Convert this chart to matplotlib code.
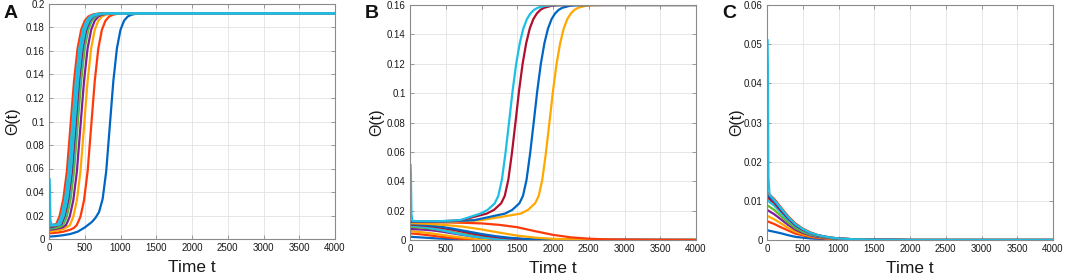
import matplotlib
matplotlib.use("Agg")
import matplotlib.pyplot as plt
from matplotlib.ticker import FuncFormatter, MultipleLocator

plt.rcParams['font.family'] = ['Liberation Sans', 'DejaVu Sans']

# MATLAB-like line colours (as they appear, saturated)
BLUE, RED, YELLOW, PURPLE = '#0066c4', '#ff3a0a', '#ffa800', '#7f1f9a'
GREEN, CYAN, DARKRED = '#5fb82a', '#1ebfe6', '#b0102e'

X_TICKS = [0, 500, 1000, 1500, 2000, 2500, 3000, 3500, 4000]

# ---------------- Panel A : all trajectories rise to 0.192 ----------------
a_blue_t = [0, 100, 200, 300, 400, 500, 600, 650, 700, 750, 800, 850, 900, 950, 1000, 1050, 1100, 1150, 1200, 1300, 4000]
a_blue_y = [0.002, 0.0025, 0.0032, 0.0043, 0.0062, 0.0098, 0.0145, 0.018, 0.023, 0.034, 0.0575, 0.096, 0.1345, 0.1623, 0.1781, 0.1858, 0.1893, 0.1908, 0.1915, 0.192, 0.192]
a_red_t = [0, 100, 200, 300, 350, 390, 440, 490, 540, 590, 640, 690, 740, 790, 840, 890, 940, 1040, 4000]
a_red_y = [0.0048, 0.0053, 0.0062, 0.008, 0.0095, 0.012, 0.019, 0.033, 0.0575, 0.096, 0.1345, 0.1623, 0.1781, 0.1858, 0.1893, 0.1908, 0.1915, 0.192, 0.192]
a_yellow_t = [0, 100, 200, 290, 340, 390, 440, 490, 540, 590, 640, 690, 740, 790, 840, 940, 4000]
a_yellow_y = [0.0062, 0.007, 0.0085, 0.0115, 0.019, 0.033, 0.0575, 0.096, 0.1345, 0.1623, 0.1781, 0.1858, 0.1893, 0.1908, 0.1915, 0.192, 0.192]
a_purple_t = [0, 100, 190, 240, 290, 340, 390, 440, 490, 540, 590, 640, 690, 740, 790, 890, 4000]
a_purple_y = [0.0077, 0.0086, 0.0098, 0.012, 0.019, 0.033, 0.0575, 0.096, 0.1345, 0.1623, 0.1781, 0.1858, 0.1893, 0.1908, 0.1915, 0.192, 0.192]
a_green_t = [0, 100, 150, 200, 250, 300, 350, 400, 450, 500, 550, 600, 650, 700, 750, 850, 4000]
a_green_y = [0.0086, 0.0095, 0.0103, 0.012, 0.019, 0.033, 0.0575, 0.096, 0.1345, 0.1623, 0.1781, 0.1858, 0.1893, 0.1908, 0.1915, 0.192, 0.192]
# the dense bundle
a_b1_t = [0, 50, 180, 230, 280, 330, 380, 430, 480, 530, 580, 630, 680, 730, 830, 4000]
a_b1_y = [0.0095, 0.0098, 0.0125, 0.02, 0.034, 0.0575, 0.096, 0.1345, 0.1623, 0.1781, 0.1858, 0.1893, 0.1908, 0.1915, 0.192, 0.192]
a_b2_t = [0, 50, 170, 220, 270, 320, 370, 420, 470, 520, 570, 620, 670, 720, 820, 4000]
a_b2_y = [0.010, 0.0102, 0.0125, 0.02, 0.034, 0.0575, 0.096, 0.1345, 0.1623, 0.1781, 0.1858, 0.1893, 0.1908, 0.1915, 0.192, 0.192]
a_b3_t = [0, 50, 160, 210, 260, 310, 360, 410, 460, 510, 560, 610, 660, 710, 810, 4000]
a_b3_y = [0.0105, 0.0107, 0.0125, 0.02, 0.034, 0.0575, 0.096, 0.1345, 0.1623, 0.1781, 0.1858, 0.1893, 0.1908, 0.1915, 0.192, 0.192]
a_b4_t = [0, 50, 150, 200, 250, 300, 350, 400, 450, 500, 550, 600, 650, 700, 800, 4000]
a_b4_y = [0.011, 0.0112, 0.0125, 0.02, 0.034, 0.0575, 0.096, 0.1345, 0.1623, 0.1781, 0.1858, 0.1893, 0.1908, 0.1915, 0.192, 0.192]
a_b5_t = [0, 50, 140, 190, 240, 290, 340, 390, 440, 490, 540, 590, 640, 690, 790, 4000]
a_b5_y = [0.0112, 0.0114, 0.0125, 0.02, 0.034, 0.0575, 0.096, 0.1345, 0.1623, 0.1781, 0.1858, 0.1893, 0.1908, 0.1915, 0.192, 0.192]
a_b6_t = [0, 50, 130, 180, 230, 280, 330, 380, 430, 480, 530, 580, 630, 680, 780, 4000]
a_b6_y = [0.0115, 0.0117, 0.0125, 0.02, 0.034, 0.0575, 0.096, 0.1345, 0.1623, 0.1781, 0.1858, 0.1893, 0.1908, 0.1915, 0.192, 0.192]
a_b7_t = [0, 50, 120, 170, 220, 270, 320, 370, 420, 470, 520, 570, 620, 670, 770, 4000]
a_b7_y = [0.0118, 0.0119, 0.0125, 0.02, 0.034, 0.0575, 0.096, 0.1345, 0.1623, 0.1781, 0.1858, 0.1893, 0.1908, 0.1915, 0.192, 0.192]
a_b8_t = [0, 50, 100, 150, 200, 250, 300, 350, 400, 450, 500, 550, 600, 650, 750, 4000]
a_b8_y = [0.012, 0.0121, 0.0125, 0.02, 0.034, 0.0575, 0.096, 0.1345, 0.1623, 0.1781, 0.1858, 0.1893, 0.1908, 0.1915, 0.192, 0.192]
a_b9_t = [0, 50, 125, 175, 225, 275, 325, 375, 425, 475, 525, 575, 625, 675, 775, 4000]
a_b9_y = [0.0117, 0.0118, 0.0125, 0.02, 0.034, 0.0575, 0.096, 0.1345, 0.1623, 0.1781, 0.1858, 0.1893, 0.1908, 0.1915, 0.192, 0.192]
a_spike_t = [8, 12, 20, 35, 60, 155, 205, 255, 305, 355, 405, 455, 505, 555, 605, 655, 705, 805, 4000]
a_spike_y = [0.051, 0.045, 0.016, 0.0125, 0.0118, 0.0125, 0.02, 0.034, 0.0575, 0.096, 0.1345, 0.1623, 0.1781, 0.1858, 0.1893, 0.1908, 0.1915, 0.192, 0.192]

A_CURVES = [
    (a_blue_t, a_blue_y, BLUE), (a_red_t, a_red_y, RED), (a_yellow_t, a_yellow_y, YELLOW),
    (a_purple_t, a_purple_y, PURPLE), (a_green_t, a_green_y, GREEN),
    (a_b1_t, a_b1_y, CYAN), (a_b2_t, a_b2_y, DARKRED), (a_b3_t, a_b3_y, BLUE),
    (a_b4_t, a_b4_y, YELLOW), (a_b5_t, a_b5_y, PURPLE), (a_b6_t, a_b6_y, GREEN),
    (a_b7_t, a_b7_y, CYAN), (a_b8_t, a_b8_y, RED), (a_b9_t, a_b9_y, CYAN),
    (a_spike_t, a_spike_y, CYAN),
]

# ---------------- Panel B : four rise to 0.16, the rest die out ----------------
b_dec_t = [0, 100, 200, 300, 400, 500, 600, 700, 800, 900, 1000, 1200, 1400, 1600, 2000, 4000]
b_blue1_y = [0.0022, 0.0019, 0.0016, 0.0013, 0.001, 0.0008, 0.0006, 0.0004, 0.0003, 0.0002, 0.0001, 0.00005, 0, 0, 0, 0]
b_red1_y = [0.0045, 0.0041, 0.0036, 0.003, 0.0024, 0.0018, 0.0013, 0.0009, 0.0006, 0.0004, 0.0003, 0.0001, 0, 0, 0, 0]
b_yellow1_y = [0.006, 0.0056, 0.0051, 0.0045, 0.0038, 0.0031, 0.0024, 0.0018, 0.0013, 0.0009, 0.0006, 0.0003, 0.0001, 0, 0, 0]
b_purple1_y = [0.0075, 0.0073, 0.007, 0.0066, 0.006, 0.0053, 0.0045, 0.0037, 0.003, 0.0023, 0.0017, 0.0009, 0.0004, 0.0002, 0, 0]
b_green1_y = [0.009, 0.0087, 0.0083, 0.0077, 0.007, 0.0062, 0.0053, 0.0044, 0.0035, 0.0027, 0.002, 0.0011, 0.0005, 0.0002, 0, 0]
b_cyan1_y = [0.0098, 0.0094, 0.0088, 0.008, 0.0071, 0.0061, 0.005, 0.004, 0.0031, 0.0023, 0.0017, 0.0008, 0.0003, 0.0001, 0, 0]
b_darkred1_y = [0.0105, 0.0102, 0.0098, 0.0093, 0.0086, 0.0078, 0.0069, 0.006, 0.005, 0.0041, 0.0033, 0.002, 0.0011, 0.0005, 0.0001, 0]
b_blue2_y = [0.011, 0.0107, 0.0103, 0.0098, 0.0092, 0.0085, 0.0077, 0.0068, 0.0059, 0.005, 0.0041, 0.0026, 0.0015, 0.0008, 0.0002, 0]
b_orange_t = [0, 250, 500, 750, 1000, 1250, 1500, 1750, 2000, 2500, 3000, 4000]
b_orange_y = [0.0115, 0.011, 0.0102, 0.009, 0.0072, 0.005, 0.003, 0.0016, 0.0008, 0.0002, 0, 0]
b_hump_t = [0, 250, 500, 750, 1000, 1250, 1500, 1750, 2000, 2250, 2500, 2750, 3000, 3500, 4000]
b_hump_y = [0.0123, 0.0122, 0.012, 0.0117, 0.0113, 0.0103, 0.0087, 0.006, 0.0035, 0.0018, 0.0009, 0.0004, 0.0002, 0.00005, 0]
b_yellow_up_t = [0, 500, 1000, 1550, 1650, 1750, 1800, 1850, 1900, 1950, 2000, 2050, 2100, 2150, 2200, 2250, 2300, 2350, 2450, 2550, 2750, 4000]
b_yellow_up_y = [0.012, 0.0122, 0.0135, 0.018, 0.0205, 0.025, 0.03, 0.041, 0.059, 0.08, 0.1015, 0.12, 0.134, 0.144, 0.1504, 0.1543, 0.1567, 0.1581, 0.1594, 0.1598, 0.16, 0.16]
b_blue_up_t = [0, 500, 900, 1330, 1430, 1530, 1580, 1630, 1680, 1730, 1780, 1830, 1880, 1930, 1980, 2030, 2080, 2130, 2230, 2330, 2530, 4000]
b_blue_up_y = [0.0123, 0.0126, 0.0135, 0.018, 0.0205, 0.025, 0.03, 0.041, 0.059, 0.08, 0.1015, 0.12, 0.134, 0.144, 0.1504, 0.1543, 0.1567, 0.1581, 0.1594, 0.1598, 0.16, 0.16]
b_darkred_up_t = [0, 400, 700, 1075, 1175, 1275, 1325, 1375, 1425, 1475, 1525, 1575, 1625, 1675, 1725, 1775, 1825, 1875, 1975, 2075, 2275, 4000]
b_darkred_up_y = [0.0125, 0.0127, 0.0133, 0.018, 0.0205, 0.025, 0.03, 0.041, 0.059, 0.08, 0.1015, 0.12, 0.134, 0.144, 0.1504, 0.1543, 0.1567, 0.1581, 0.1594, 0.1598, 0.16, 0.16]
b_cyan_up_t = [8, 12, 20, 35, 400, 700, 985, 1085, 1185, 1235, 1285, 1335, 1385, 1435, 1485, 1535, 1585, 1635, 1685, 1735, 1785, 1885, 1985, 2185, 4000]
b_cyan_up_y = [0.051, 0.045, 0.018, 0.0128, 0.0128, 0.0135, 0.018, 0.0205, 0.025, 0.03, 0.041, 0.059, 0.08, 0.1015, 0.12, 0.134, 0.144, 0.1504, 0.1543, 0.1567, 0.1581, 0.1594, 0.1598, 0.16, 0.16]

B_CURVES = [
    (b_dec_t, b_blue1_y, BLUE), (b_dec_t, b_red1_y, RED), (b_dec_t, b_yellow1_y, YELLOW),
    (b_dec_t, b_purple1_y, PURPLE), (b_dec_t, b_green1_y, GREEN), (b_dec_t, b_cyan1_y, CYAN),
    (b_dec_t, b_darkred1_y, DARKRED), (b_dec_t, b_blue2_y, BLUE),
    (b_orange_t, b_orange_y, YELLOW), (b_hump_t, b_hump_y, RED),
    (b_yellow_up_t, b_yellow_up_y, YELLOW), (b_blue_up_t, b_blue_up_y, BLUE),
    (b_darkred_up_t, b_darkred_up_y, DARKRED), (b_cyan_up_t, b_cyan_up_y, CYAN),
]

# ---------------- Panel C : all trajectories die out ----------------
c_t = [0, 100, 200, 300, 400, 500, 600, 700, 800, 900, 1000, 1200, 1500, 2000, 4000]
c_blue_y = [0.0025, 0.0021, 0.0017, 0.0012, 0.0008, 0.0006, 0.0004, 0.0003, 0.0002, 0.0001, 0.0001, 0, 0, 0, 0]
c_red_y = [0.0048, 0.0041, 0.0032, 0.0024, 0.0016, 0.0012, 0.0008, 0.0005, 0.0004, 0.0002, 0.0002, 0.0001, 0, 0, 0]
c_yellow_y = [0.0062, 0.0053, 0.0042, 0.003, 0.0021, 0.0015, 0.001, 0.0007, 0.0005, 0.0003, 0.0002, 0.0001, 0, 0, 0]
c_purple_y = [0.0077, 0.0066, 0.0052, 0.0038, 0.0026, 0.0018, 0.0012, 0.0008, 0.0006, 0.0004, 0.0003, 0.0001, 0.0001, 0, 0]
c_green_y = [0.0089, 0.0077, 0.006, 0.0044, 0.003, 0.0021, 0.0014, 0.001, 0.0007, 0.0004, 0.0003, 0.0001, 0.0001, 0, 0]
c_cyan_y = [0.0102, 0.0088, 0.0068, 0.005, 0.0035, 0.0024, 0.0016, 0.0011, 0.0008, 0.0005, 0.0003, 0.0002, 0.0001, 0, 0]
c_darkred_y = [0.011, 0.0095, 0.0074, 0.0054, 0.0037, 0.0026, 0.0018, 0.0012, 0.0008, 0.0005, 0.0004, 0.0002, 0.0001, 0, 0]
c_blue2_y = [0.0116, 0.01, 0.0078, 0.0057, 0.0039, 0.0028, 0.0019, 0.0013, 0.0009, 0.0006, 0.0004, 0.0002, 0.0001, 0, 0]
c_red2_y = [0.0122, 0.0105, 0.0082, 0.006, 0.0042, 0.0029, 0.002, 0.0013, 0.0009, 0.0006, 0.0004, 0.0002, 0.0001, 0, 0]
c_spike_t = [8, 12, 20, 35, 100, 200, 300, 400, 500, 600, 700, 800, 900, 1000, 1200, 1500, 2000, 4000]
c_spike_y = [0.051, 0.045, 0.016, 0.0116, 0.0102, 0.0080, 0.0058, 0.0040, 0.0028, 0.0019, 0.0013, 0.0009, 0.0006, 0.0004, 0.0002, 0.0001, 0, 0]

C_CURVES = [
    (c_t, c_blue_y, BLUE), (c_t, c_red_y, RED), (c_t, c_yellow_y, YELLOW),
    (c_t, c_purple_y, PURPLE), (c_t, c_green_y, GREEN), (c_t, c_cyan_y, CYAN),
    (c_t, c_darkred_y, DARKRED), (c_t, c_blue2_y, BLUE), (c_t, c_red2_y, RED),
    (c_spike_t, c_spike_y, CYAN),
]

PANELS = [
    ("A", A_CURVES, 0.2, 0.02, -0.126, (49, 4, 286, 235)),
    ("B", B_CURVES, 0.16, 0.02, -0.116, (410, 5, 286, 235)),
    ("C", C_CURVES, 0.06, 0.01, -0.106, (767, 5, 286, 235)),
]

W, H = 1065, 275
fig = plt.figure(figsize=(W / 100, H / 100), dpi=100)
fmt = FuncFormatter(lambda v, p: f"{v:g}")
SPINE = '#8a8a8a'

for letter, curves, ymax, ystep, ylab_x, (px, py, pw, ph) in PANELS:
    ax = fig.add_axes([px / W, (H - py - ph) / H, pw / W, ph / H])
    for t, y, c in curves:
        ax.plot(t, y, color=c, lw=1.6, solid_joinstyle='round')
    ax.set_xlim(0, 4000)
    ax.set_ylim(0, ymax)
    ax.set_xticks(X_TICKS)
    ax.yaxis.set_major_locator(MultipleLocator(ystep))
    ax.xaxis.set_major_formatter(fmt)
    ax.yaxis.set_major_formatter(fmt)
    ax.grid(True, color='#e2e2e2', lw=0.6)
    ax.set_axisbelow(True)
    for s in ax.spines.values():
        s.set_color(SPINE)
        s.set_linewidth(0.8)
    ax.tick_params(direction='in', length=3, width=0.6, color=SPINE,
                   top=True, right=True, labelsize=7, labelcolor='#1a1a1a', pad=3)
    ax.set_xlabel("Time t", fontsize=12.5, color='#1a1a1a')
    ax.xaxis.set_label_coords(0.5, -0.12)
    ax.xaxis.label.set_verticalalignment('center')
    ax.set_ylabel("Θ(t)", fontsize=11.5, color='#1a1a1a')
    ax.yaxis.set_label_coords(ylab_x, 0.5)
    ax.yaxis.label.set_verticalalignment('center')
    fig.text((px - 38) / W, (H - 13) / H, letter, fontsize=14, fontweight='bold',
             ha='center', va='center', color='#111111')

fig.savefig("out.png", dpi=100)
